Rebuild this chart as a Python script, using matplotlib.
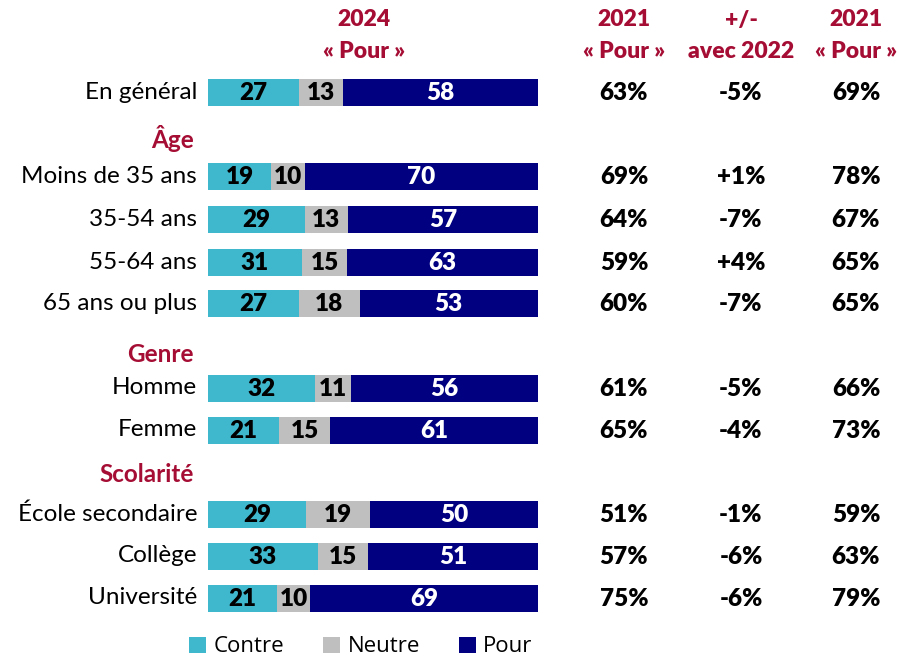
import matplotlib
matplotlib.use("Agg")
import matplotlib.pyplot as plt
from matplotlib.patches import Patch
import numpy as np

# ---------------- data ----------------
rows = ["En général", "Âge", "Moins de 35 ans", "35-54 ans", "55-64 ans", "65 ans ou plus",
        "Genre", "Homme", "Femme", "Scolarité", "École secondaire", "Collège", "Université"]
is_header = [False, True, False, False, False, False, True, False, False, True, False, False, False]
contre = [27, None, 19, 29, 31, 27, None, 32, 21, None, 29, 33, 21]
neutre = [13, None, 10, 13, 15, 18, None, 11, 15, None, 19, 15, 10]
pour   = [58, None, 70, 57, 63, 53, None, 56, 61, None, 50, 51, 69]
col1 = ["63%", None, "69%", "64%", "59%", "60%", None, "61%", "65%", None, "51%", "57%", "75%"]
col2 = ["-5%", None, "+1%", "-7%", "+4%", "-7%", None, "-5%", "-4%", None, "-1%", "-6%", "-6%"]
col3 = ["69%", None, "78%", "67%", "65%", "65%", None, "66%", "73%", None, "59%", "63%", "79%"]
headers = [("2024", "« Pour »"), ("2021", "« Pour »"), ("+/-", "avec 2022"), ("2021", "« Pour »")]
legend_labels = ["Contre", "Neutre", "Pour"]

# ---------------- layout / style ----------------
W, H = 899, 658
row_y = [92.5, 138, 176.5, 219, 262, 303, 355, 388, 430, 474, 514, 556, 598]
bar_h = 27
bar_x0, bar_x1 = 208, 538
col_x = [624, 741, 856]
head_x = [364, 624, 741, 856]
c_contre, c_neutre, c_pour = "#3FB8CD", "#BFBFBF", "#000080"
red = "#A50D34"
FONT = "Lato"
LEGFONT = "Open Sans"

fig = plt.figure(figsize=(W / 100, H / 100), dpi=100)
ax = fig.add_axes([bar_x0 / W, 0, (bar_x1 - bar_x0) / W, 1])
ax.set_xlim(0, 100)
ax.set_ylim(H, 0)
ax.axis("off")

def fx(px):
    return px / W

def fy(py):
    return 1 - py / H

for i, lab in enumerate(rows):
    y = row_y[i]
    if is_header[i]:
        fig.text(fx(194), fy(y), lab, ha="right", va="center", fontsize=17.5,
                 fontweight="bold", color=red, family=FONT)
        continue
    fig.text(fx(197), fy(y), lab, ha="right", va="center", fontsize=17.5,
             color="black", family=FONT)
    vals = np.array([contre[i], neutre[i], pour[i]], dtype=float)
    norm = vals / vals.sum() * 100
    left = 0
    for v, n, c, tc in zip(vals, norm, [c_contre, c_neutre, c_pour], ["black", "black", "white"]):
        ax.barh(y, n, left=left, height=bar_h, color=c, edgecolor="none")
        ax.text(left + n / 2, y + 1, f"{int(v)}", ha="center", va="center", fontsize=17.5,
                fontweight="heavy", color=tc, family=FONT)
        left += n
    for cx, txt in zip(col_x, [col1[i], col2[i], col3[i]]):
        fig.text(fx(cx), fy(y + 1), txt, ha="center", va="center", fontsize=17.5,
                 fontweight="heavy", color="black", family=FONT)

for hx, (l1, l2) in zip(head_x, headers):
    fig.text(fx(hx), fy(20), l1, ha="center", va="center", fontsize=16.5,
             fontweight="heavy", color=red, family=FONT)
    fig.text(fx(hx), fy(51), l2, ha="center", va="center", fontsize=16.5,
             fontweight="heavy", color=red, family=FONT)

handles = [Patch(facecolor=c, edgecolor="none") for c in [c_contre, c_neutre, c_pour]]
fig.legend(handles, legend_labels, loc="center", bbox_to_anchor=(fx(361), fy(647)),
           ncol=3, frameon=False, prop={"family": LEGFONT, "size": 16},
           handlelength=0.75, handleheight=0.75, handletextpad=0.35, columnspacing=1.75,
           borderaxespad=0, borderpad=0)

fig.savefig("out.png", dpi=100)
